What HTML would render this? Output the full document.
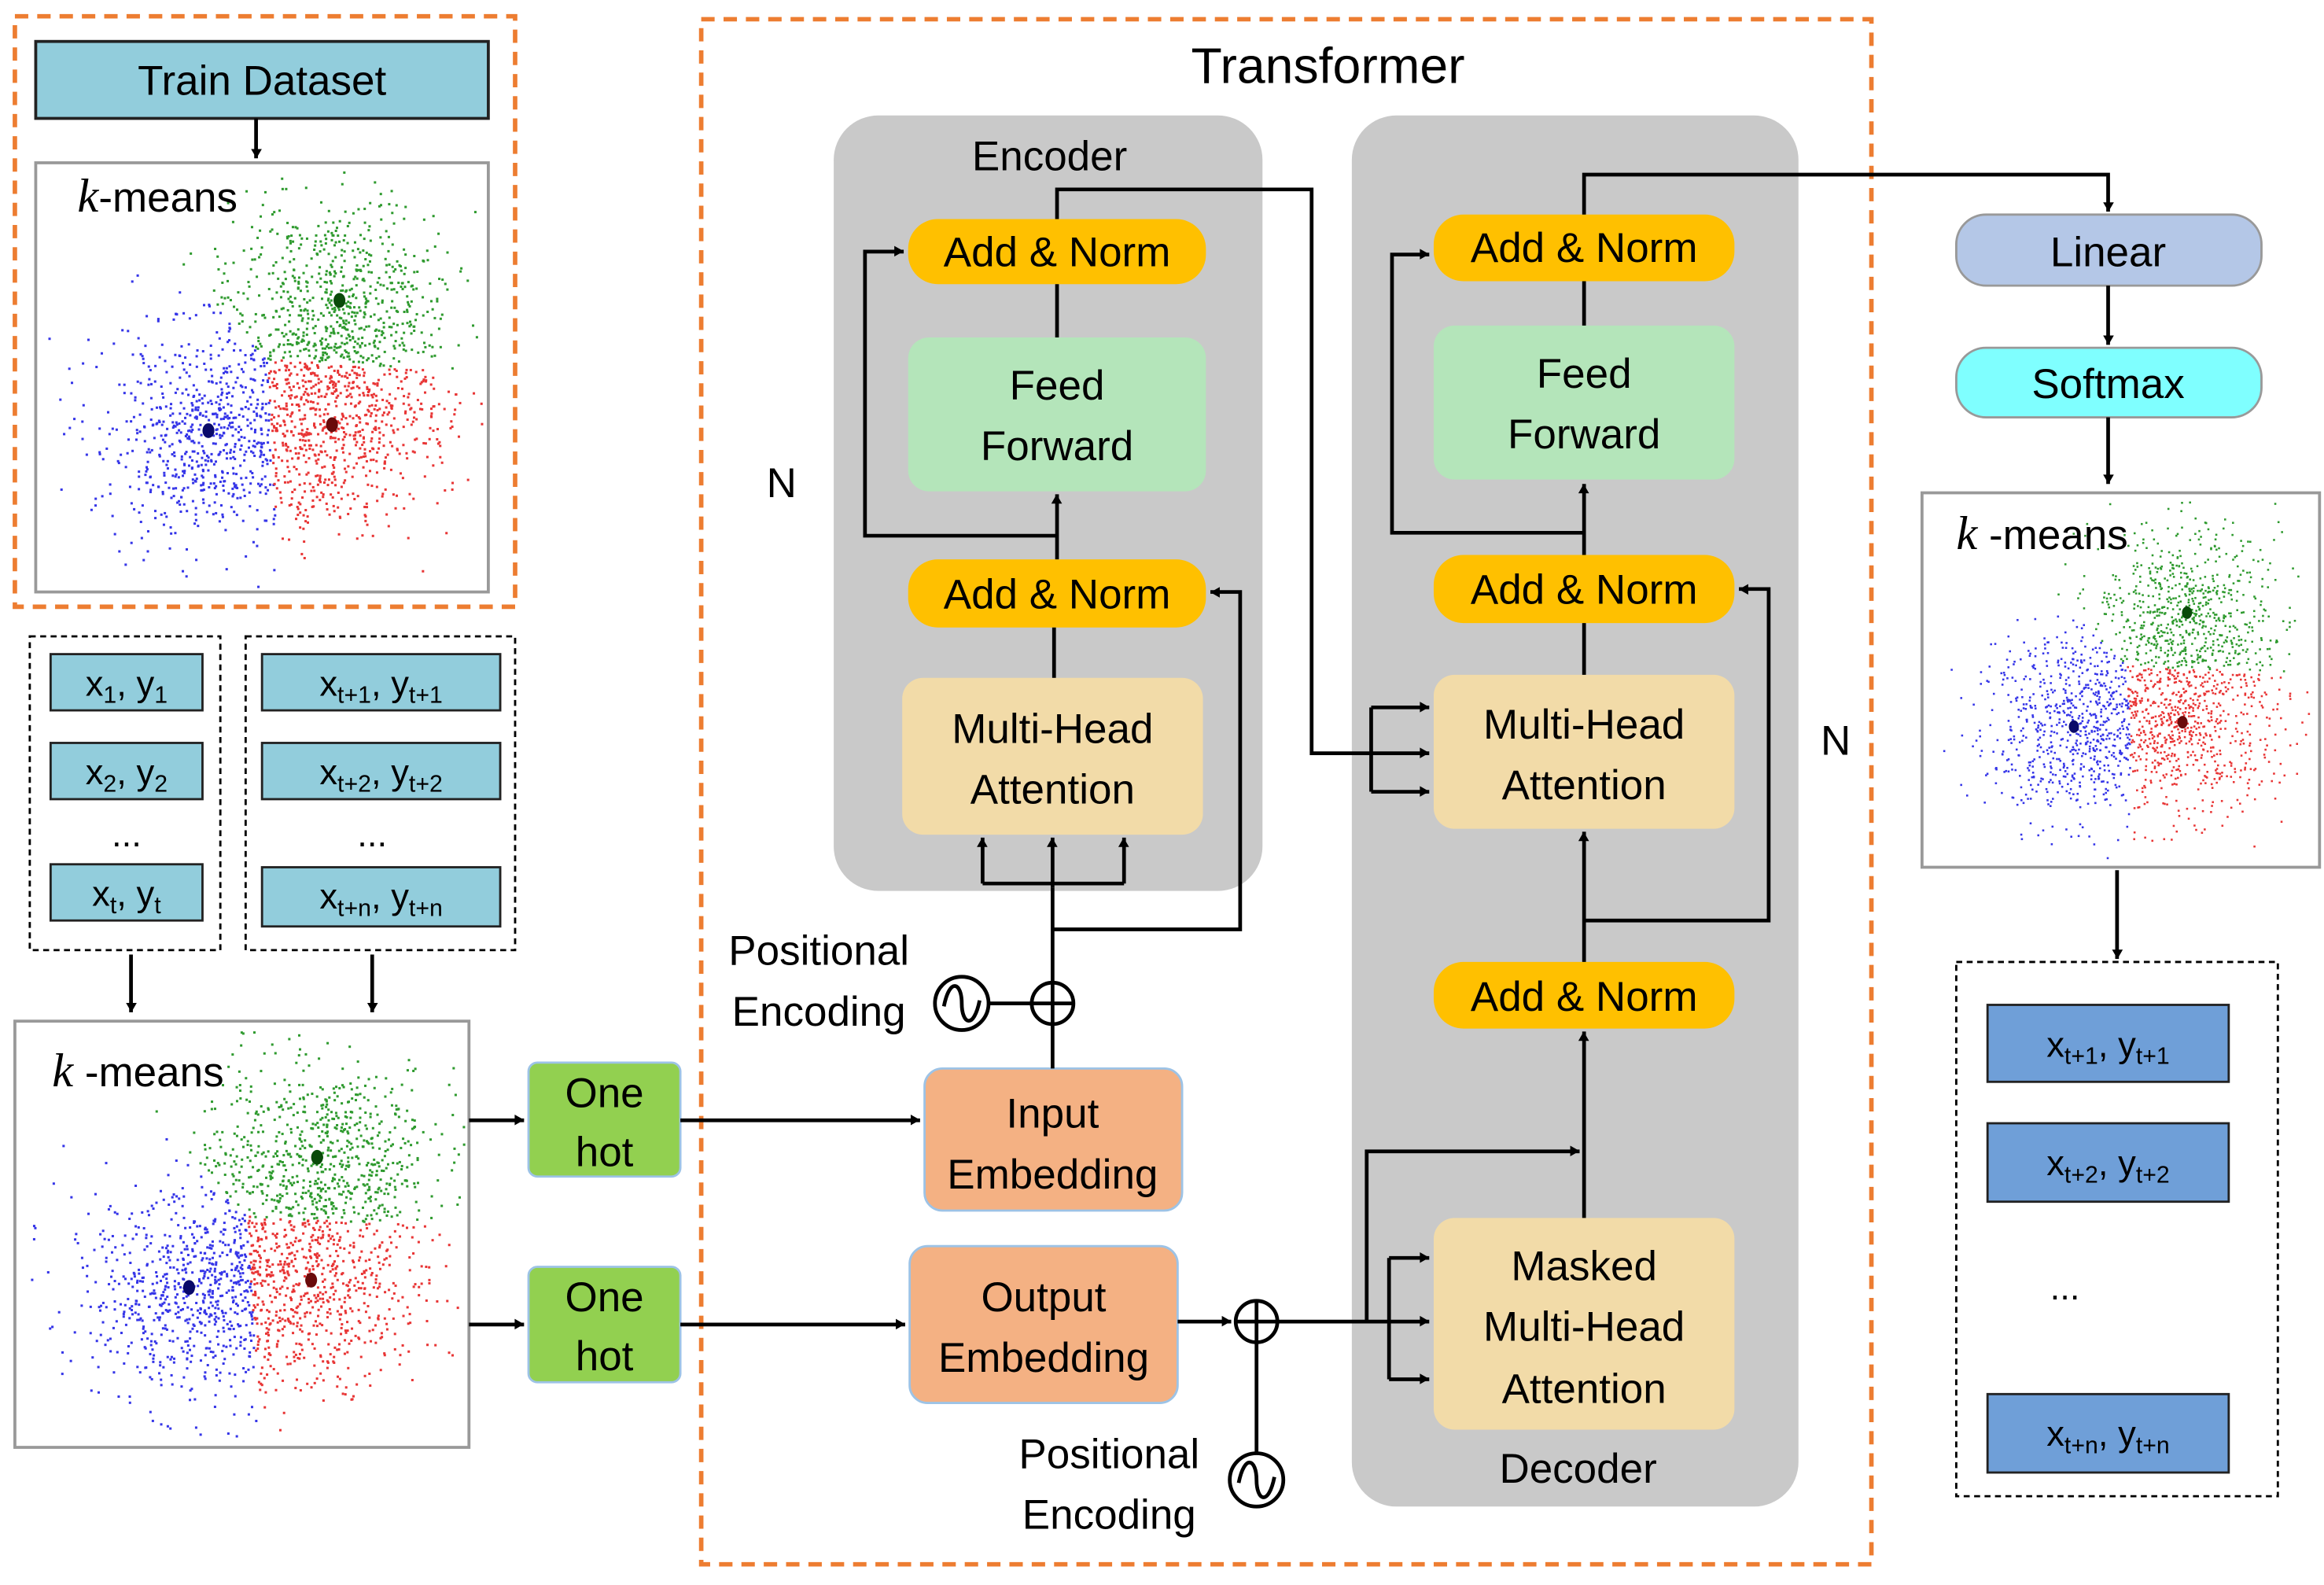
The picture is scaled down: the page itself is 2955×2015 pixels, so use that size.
<!DOCTYPE html>
<html><head><meta charset="utf-8"><style>
html,body{margin:0;padding:0;background:#fff}
svg{display:block}
text{font-family:"Liberation Sans",sans-serif;fill:#000}
</style></head><body>
<svg id="s" width="2955" height="2015" viewBox="0 0 1561 1071" preserveAspectRatio="none" xmlns="http://www.w3.org/2000/svg">
<defs>
<marker id="a" viewBox="0 0 10 10" refX="9" refY="5" markerWidth="5" markerHeight="5" orient="auto-start-reverse" markerUnits="userSpaceOnUse" style="overflow:visible">
<path d="M-4,-3 L10,5 L-4,13 z" fill="#000" transform="scale(0.9)"/>
</marker>
</defs>
<rect width="1561" height="1071" fill="#fff"/>
<!-- orange dashed boxes -->
<g fill="none" stroke="#ED7D31" stroke-width="3" stroke-dasharray="9,6">
<rect x="10" y="11" width="336" height="399"/>
<rect x="471" y="13" width="786" height="1044"/>
</g>
<g fill="none" stroke="#000" stroke-width="1.5" stroke-dasharray="4,3">
<rect x="20" y="430" width="128" height="212"/>
<rect x="165" y="430" width="181" height="212"/>
<rect x="1314" y="650" width="216" height="361"/>
</g>
<!-- train dataset -->
<rect x="24" y="28" width="304" height="52" fill="#92CDDC" stroke="#222" stroke-width="2"/>
<text x="176" y="64" font-size="28" text-anchor="middle">Train Dataset</text>
<!-- kmeans boxes -->
<g fill="#fff" stroke="#999" stroke-width="2">
<rect x="24" y="110" width="304" height="290"/>
<rect x="10" y="690" width="305" height="288"/>
<rect x="1291" y="333" width="267" height="253"/>
</g>
<g id="scatter"></g>
<g font-size="28">
<text x="52" y="143"><tspan font-family="Liberation Serif" font-style="italic" font-size="32">k</tspan>-means</text>
<text x="35" y="734"><tspan font-family="Liberation Serif" font-style="italic" font-size="32">k</tspan> -means</text>
<text x="1314" y="371"><tspan font-family="Liberation Serif" font-style="italic" font-size="32">k</tspan> -means</text>
</g>
<!-- small teal boxes -->
<g fill="#92CDDC" stroke="#222" stroke-width="1.5">
<rect x="34" y="442" width="102" height="38"/><rect x="34" y="502" width="102" height="38"/><rect x="34" y="584" width="102" height="38"/>
<rect x="176" y="442" width="160" height="38"/><rect x="176" y="502" width="160" height="38"/><rect x="176" y="586" width="160" height="40"/>
</g>
<g font-size="24" text-anchor="middle">
<text x="85" y="470">x<tspan font-size="16" dy="5">1</tspan><tspan dy="-5">, y</tspan><tspan font-size="16" dy="5">1</tspan></text>
<text x="85" y="530">x<tspan font-size="16" dy="5">2</tspan><tspan dy="-5">, y</tspan><tspan font-size="16" dy="5">2</tspan></text>
<text x="85" y="572">...</text>
<text x="85" y="612">x<tspan font-size="16" dy="5">t</tspan><tspan dy="-5">, y</tspan><tspan font-size="16" dy="5">t</tspan></text>
<text x="256" y="470">x<tspan font-size="16" dy="5">t+1</tspan><tspan dy="-5">, y</tspan><tspan font-size="16" dy="5">t+1</tspan></text>
<text x="256" y="530">x<tspan font-size="16" dy="5">t+2</tspan><tspan dy="-5">, y</tspan><tspan font-size="16" dy="5">t+2</tspan></text>
<text x="250" y="572">...</text>
<text x="256" y="614">x<tspan font-size="16" dy="5">t+n</tspan><tspan dy="-5">, y</tspan><tspan font-size="16" dy="5">t+n</tspan></text>
</g>
<!-- blue output boxes -->
<g fill="#6F9FD8" stroke="#222" stroke-width="1.5">
<rect x="1335" y="679" width="162" height="52"/><rect x="1335" y="759" width="162" height="53"/><rect x="1335" y="942" width="162" height="53"/>
</g>
<g font-size="24" text-anchor="middle">
<text x="1416" y="714">x<tspan font-size="16" dy="5">t+1</tspan><tspan dy="-5">, y</tspan><tspan font-size="16" dy="5">t+1</tspan></text>
<text x="1416" y="794">x<tspan font-size="16" dy="5">t+2</tspan><tspan dy="-5">, y</tspan><tspan font-size="16" dy="5">t+2</tspan></text>
<text x="1387" y="878">...</text>
<text x="1416" y="977">x<tspan font-size="16" dy="5">t+n</tspan><tspan dy="-5">, y</tspan><tspan font-size="16" dy="5">t+n</tspan></text>
</g>
<!-- one hot -->
<g fill="#92D050" stroke="#9DC3E6" stroke-width="1.5">
<rect x="355" y="718" width="102" height="77" rx="6"/><rect x="355" y="856" width="102" height="78" rx="6"/>
</g>
<g font-size="28" text-anchor="middle">
<text x="406" y="748">One</text><text x="406" y="788">hot</text>
<text x="406" y="886">One</text><text x="406" y="926">hot</text>
</g>
<!-- transformer -->
<text x="892" y="56" font-size="34" text-anchor="middle">Transformer</text>
<rect x="560" y="78" width="288" height="524" rx="30" fill="#C9C9C9"/>
<rect x="908" y="78" width="300" height="940" rx="30" fill="#C9C9C9"/>
<text x="705" y="115" font-size="28" text-anchor="middle">Encoder</text>
<text x="1060" y="1002" font-size="28" text-anchor="middle">Decoder</text>
<g fill="#FFC000">
<rect x="610" y="148" width="200" height="44" rx="20"/><rect x="610" y="378" width="200" height="46" rx="20"/>
<rect x="963" y="145" width="202" height="45" rx="20"/><rect x="963" y="375" width="202" height="46" rx="20"/><rect x="963" y="650" width="202" height="45" rx="20"/>
</g>
<g fill="#B4E5BA"><rect x="610" y="228" width="200" height="104" rx="14"/><rect x="963" y="220" width="202" height="104" rx="14"/></g>
<g fill="#F2DBA8"><rect x="606" y="458" width="202" height="106" rx="14"/><rect x="963" y="456" width="202" height="104" rx="14"/><rect x="963" y="823" width="202" height="143" rx="14"/></g>
<g fill="#F4B183" stroke="#9DC3E6" stroke-width="1.5"><rect x="621" y="722" width="173" height="96" rx="12"/><rect x="611" y="842" width="180" height="106" rx="12"/></g>
<rect x="1314" y="145" width="205" height="48" rx="20" fill="#B4C7E7" stroke="#999" stroke-width="1.5"/>
<rect x="1314" y="235" width="205" height="47" rx="20" fill="#7FFFFF" stroke="#999" stroke-width="1.5"/>
<g font-size="28" text-anchor="middle">
<text x="710" y="180">Add &amp; Norm</text><text x="710" y="411">Add &amp; Norm</text>
<text x="1064" y="177">Add &amp; Norm</text><text x="1064" y="408">Add &amp; Norm</text><text x="1064" y="683">Add &amp; Norm</text>
<text x="710" y="270">Feed</text><text x="710" y="311">Forward</text>
<text x="1064" y="262">Feed</text><text x="1064" y="303">Forward</text>
<text x="707" y="502">Multi-Head</text><text x="707" y="543">Attention</text>
<text x="1064" y="499">Multi-Head</text><text x="1064" y="540">Attention</text>
<text x="1064" y="865">Masked</text><text x="1064" y="906">Multi-Head</text><text x="1064" y="948">Attention</text>
<text x="707" y="762">Input</text><text x="707" y="803">Embedding</text>
<text x="701" y="886">Output</text><text x="701" y="927">Embedding</text>
<text x="1416" y="180">Linear</text><text x="1416" y="269">Softmax</text>
<text x="550" y="652">Positional</text><text x="550" y="693">Encoding</text>
<text x="745" y="992">Positional</text><text x="745" y="1033">Encoding</text>
<text x="525" y="336">N</text><text x="1233" y="510">N</text>
</g>
<!-- connectors -->
<g fill="none" stroke="#000" stroke-width="2.5">
<path d="M172,80V107" marker-end="url(#a)"/>
<path d="M88,645V684" marker-end="url(#a)"/>
<path d="M250,645V684" marker-end="url(#a)"/>
<path d="M315,757H352" marker-end="url(#a)"/>
<path d="M315,895H352" marker-end="url(#a)"/>
<path d="M457,757H618" marker-end="url(#a)"/>
<path d="M457,895H608" marker-end="url(#a)"/>
<!-- encoder -->
<path d="M707,722V600"/>
<path d="M660,597H755"/>
<path d="M660,597V566" marker-end="url(#a)"/>
<path d="M707,600V566" marker-end="url(#a)"/>
<path d="M755,597V566" marker-end="url(#a)"/>
<path d="M707,628H833V400H813" marker-end="url(#a)"/>
<path d="M708,458V424"/>
<path d="M710,378V334" marker-end="url(#a)"/>
<path d="M710,362H581V170H607" marker-end="url(#a)"/>
<path d="M710,228V192"/>
<path d="M710,148V128H881V509H921"/>
<path d="M921,478V535"/>
<path d="M921,478H960" marker-end="url(#a)"/>
<path d="M921,509H960" marker-end="url(#a)"/>
<path d="M921,535H960" marker-end="url(#a)"/>
<path d="M664,678H693"/>
<!-- decoder -->
<path d="M791,893H827" marker-end="url(#a)"/>
<path d="M844,982V907"/>
<path d="M858,893H960" marker-end="url(#a)"/>
<path d="M933,850V932"/>
<path d="M933,850H960" marker-end="url(#a)"/>
<path d="M933,932H960" marker-end="url(#a)"/>
<path d="M918,893V778H1061" marker-end="url(#a)"/>
<path d="M1064,823V697" marker-end="url(#a)"/>
<path d="M1064,650V562" marker-end="url(#a)"/>
<path d="M1064,622H1188V398H1168" marker-end="url(#a)"/>
<path d="M1064,456V421"/>
<path d="M1064,375V327" marker-end="url(#a)"/>
<path d="M1064,360H935V172H960" marker-end="url(#a)"/>
<path d="M1064,220V190"/>
<path d="M1064,145V118H1416V143" marker-end="url(#a)"/>
<path d="M1416,193V233" marker-end="url(#a)"/>
<path d="M1416,282V327" marker-end="url(#a)"/>
<path d="M1422,588V648" marker-end="url(#a)"/>
</g>
<!-- plus & sine circles -->
<g fill="#fff" stroke="#000" stroke-width="2.5">
<circle cx="707" cy="678" r="14"/><circle cx="844" cy="893" r="14"/>
<circle cx="646" cy="678" r="18"/><circle cx="844" cy="1000" r="18"/>
</g>
<g fill="none" stroke="#000" stroke-width="2.5">
<path d="M693,678H721M707,664V692"/><path d="M830,893H858M844,879V907"/>
<path d="M634,680C638,660 646,664 646,678C646,692 654,696 658,676"/>
<path d="M832,1002C836,982 844,986 844,1000C844,1014 852,1018 856,998"/>
</g>
</svg>
<script>
(function(){
var seed=12345;function r(){seed=(seed*1103515245+12345)%2147483648;return seed/2147483648;}
function g(){var u=r()||1e-9,v=r();return Math.sqrt(-2*Math.log(u))*Math.cos(2*Math.PI*v);}
var ns="http://www.w3.org/2000/svg",G=document.getElementById("scatter");
function plot(box,cg,cb,cr,sc){
 var cols=["#2E9A2E","#3535E8","#E83535"],cs=[cg,cb,cr];
 var n=0;
 for(var k=0;k<3;k++){for(var i=0;i<700;i++){
  var x=cs[k][0]+g()*38*sc,y=cs[k][1]+g()*36*sc;
  if(x<box[0]+4||x>box[2]-4||y<box[1]+4||y>box[3]-4)continue;
  var best=0,bd=1e9;for(var j=0;j<3;j++){var d=(x-cs[j][0])*(x-cs[j][0])+(y-cs[j][1])*(y-cs[j][1]);if(d<bd){bd=d;best=j;}}
  var c=document.createElementNS(ns,"rect");c.setAttribute("x",x);c.setAttribute("y",y);c.setAttribute("width",1.6*sc);c.setAttribute("height",1.6*sc);c.setAttribute("fill",cols[best]);G.appendChild(c);
 }}
 for(var k=0;k<3;k++){var e=document.createElementNS(ns,"ellipse");e.setAttribute("cx",cs[k][0]);e.setAttribute("cy",cs[k][1]);e.setAttribute("rx",4*sc);e.setAttribute("ry",5*sc);e.setAttribute("fill",["#0a4a0a","#0a0a6a","#6a0a0a"][k]);G.appendChild(e);}
}
plot([24,110,328,400],[228,203],[140,291],[223,287],1);
plot([10,690,315,978],[213,782],[127,870],[209,865],1);
plot([1291,333,1558,586],[1469,414],[1393,491],[1466,488],0.85);
})();
</script>
</body></html>
